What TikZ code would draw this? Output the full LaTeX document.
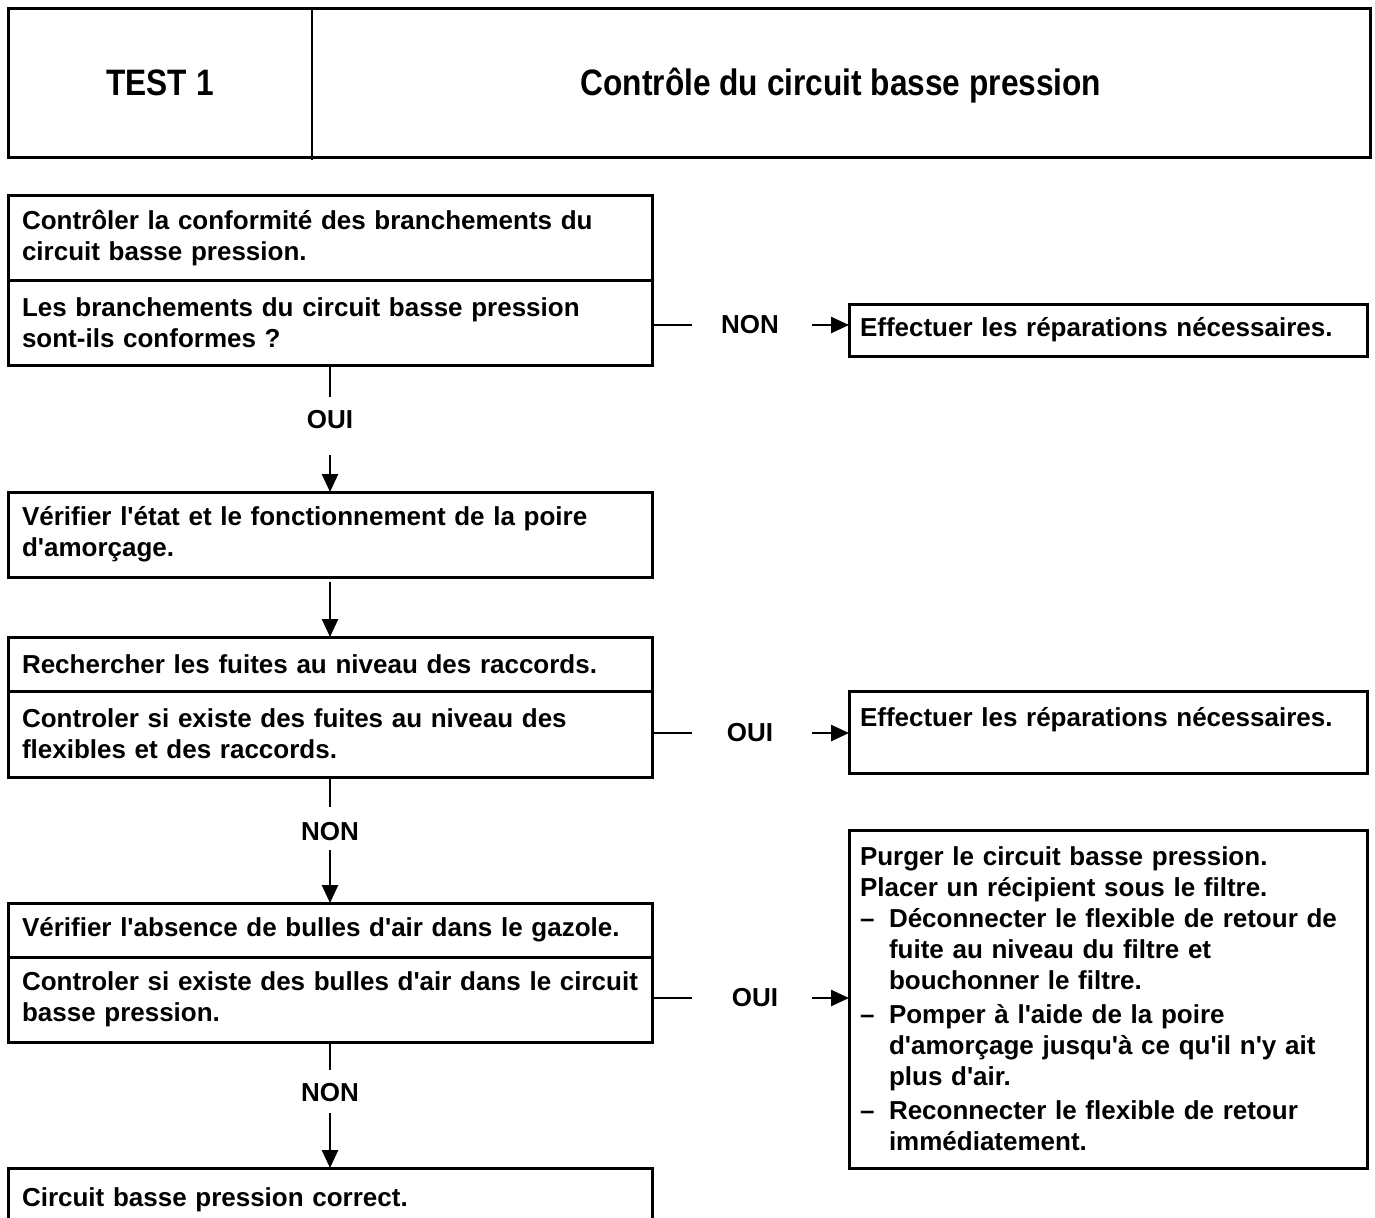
\documentclass[tikz,border=0pt]{standalone}
\usepackage{fontspec}
\newfontfamily\arialfont{Liberation Sans}
\newfontfamily\arialnarrow{Liberation Sans}[FakeStretch=0.86]
\usetikzlibrary{arrows.meta,positioning,calc}

\newcommand{\boxtext}{\arialfont\bfseries\fontsize{13}{15.5}\selectfont\hyphenpenalty=10000\exhyphenpenalty=10000}
\newcommand{\headtext}{\arialnarrow\bfseries\fontsize{18.4}{22}\selectfont}
\newcommand{\dashitem}{\makebox[14.5pt][l]{–}}
\newcommand{\itemgap}{\hspace*{14.5pt}}

\tikzset{
  frame/.style={draw, line width=1.5pt, outer sep=0pt},
  headcell/.style={anchor=north west, minimum height=74.5pt, inner sep=0pt, outer sep=0pt,
                   text height=13.2pt, text depth=0pt, font=\headtext},
  stepbox/.style={frame, anchor=north west, minimum width=322pt, text width=308pt,
                  inner xsep=7pt, inner ysep=0pt, align=left, font=\boxtext},
  fixbox/.style={stepbox, minimum width=259pt, text width=248pt, inner xsep=5.5pt},
  answer/.style={inner sep=0pt, font=\boxtext},
  link/.style={line width=1.3pt},
  arrow/.style={link, -{Triangle[length=9pt,width=8pt]}},
}

\begin{document}
\begin{tikzpicture}[x=0.5pt, y=-0.5pt]
  \useasboundingbox (0,0) rectangle (1375,1217);

  % --- header ---
  \node[headcell, minimum width=152pt] (testno) at (8,8) {TEST 1};
  \node[headcell, minimum width=529pt] (title) at (312,8) {Contrôle du circuit basse pression};
  \draw[frame] (testno.north west) rectangle (title.south east);
  \draw[line width=1pt] (testno.north east) -- ([yshift=-1.5pt]testno.south east);

  % --- main column ---
  \node[stepbox, minimum height=42.5pt] (check1) at (8,195)
    {Contrôler la conformité des branchements du\\circuit basse pression.};
  \node[stepbox, minimum height=42.5pt] (ask1) at (8,280)
    {Les branchements du circuit basse pression\\sont-ils conformes ?};
  \node[stepbox, minimum height=42.5pt] (bulb) at (8,492)
    {Vérifier l'état et le fonctionnement de la poire\\d'amorçage.};
  \node[stepbox, minimum height=27pt] (leak) at (8,637)
    {Rechercher les fuites au niveau des raccords.};
  \node[stepbox, minimum height=43pt] (ask2) at (8,691)
    {Controler si existe des fuites au niveau des\\flexibles et des raccords.};
  \node[stepbox, minimum height=27pt] (air) at (8,903)
    {\mbox{Vérifier l'absence de bulles d'air dans le gazole.}};
  \node[stepbox, minimum height=42.5pt] (ask3) at (8,957)
    {\mbox{Controler si existe des bulles d'air dans le circuit}\\basse pression.};
  \node[stepbox, minimum height=32pt] (done) at (8,1168)
    {Circuit basse pression correct.};

  % --- right column ---
  \node[fixbox, minimum height=26pt] (repair1) at (849,304)
    {Effectuer les réparations nécessaires.};
  \node[fixbox, minimum height=41pt] (repair2) at (849,691)
    {Effectuer les réparations nécessaires.\\\mbox{}};
  \node[fixbox, minimum height=169pt] (purge) at (849,830)
    {Purger le circuit basse pression.\\
     Placer un récipient sous le filtre.\\
     \dashitem Déconnecter le flexible de retour de\\
     \itemgap fuite au niveau du filtre et\\
     \itemgap bouchonner le filtre.\\[1.5pt]
     \dashitem Pomper à l'aide de la poire\\
     \itemgap d'amorçage jusqu'à ce qu'il n'y ait\\
     \itemgap plus d'air.\\[1.5pt]
     \dashitem Reconnecter le flexible de retour\\
     \itemgap immédiatement.};

  % --- first question ---
  \coordinate (stub1) at (692,325);
  \node[answer] (non1) at (750,325) {NON};
  \coordinate (tip1) at (812,325);
  \draw[link] (ask1.east |- stub1) -- (stub1);
  \draw[arrow] (tip1) -- (tip1 -| repair1.west);

  \coordinate (stub2) at (330,397);
  \draw[link] (ask1.south) -- (ask1.south |- stub2);
  \node[answer] (oui1) at (330,420) {OUI};
  \coordinate (tail1) at (330,455);
  \draw[arrow] (bulb.north |- tail1) -- (bulb.north);

  \draw[arrow] ([yshift=-2.5pt]bulb.south) -- (leak.north);

  % --- leaks ---
  \coordinate (stub3) at (692,733);
  \node[answer] (oui2) at (750,733) {OUI};
  \coordinate (tip2) at (812,733);
  \draw[link] (ask2.east |- stub3) -- (stub3);
  \draw[arrow] (tip2) -- (tip2 -| repair2.west);

  \coordinate (stub4) at (330,807);
  \draw[link] (ask2.south) -- (ask2.south |- stub4);
  \node[answer] (non2) at (330,832) {NON};
  \coordinate (tail2) at (330,850);
  \draw[arrow] (air.north |- tail2) -- (air.north);

  % --- air bubbles ---
  \coordinate (stub5) at (692,998);
  \node[answer] (oui3) at (755,998) {OUI};
  \coordinate (tip3) at (812,998);
  \draw[link] (ask3.east |- stub5) -- (stub5);
  \draw[arrow] (tip3) -- (tip3 -| purge.west);

  \coordinate (stub6) at (330,1070);
  \draw[link] (ask3.south) -- (ask3.south |- stub6);
  \node[answer] (non3) at (330,1093) {NON};
  \coordinate (tail3) at (330,1113);
  \draw[arrow] (done.north |- tail3) -- (done.north);
\end{tikzpicture}
\end{document}
